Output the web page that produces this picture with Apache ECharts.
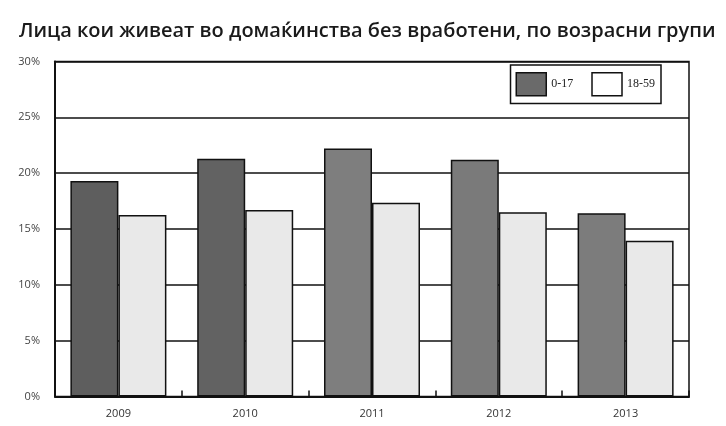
<!DOCTYPE html>
<html>
<head>
<meta charset="utf-8">
<script src="https://cdn.jsdelivr.net/npm/echarts@6/dist/echarts.min.js"></script>
<style>
  html, body { margin: 0; padding: 0; background: #fff; }
  #chart { width: 726px; height: 426px; }
</style>
</head>
<body>
<div id="chart"></div>
<script>
// Households without employed members, share of persons by age group
const years = ['2009', '2010', '2011', '2012', '2013'];
const age0to17 = [19.3, 21.3, 22.2, 21.2, 16.4];
const age18to59 = [16.25, 16.7, 17.35, 16.5, 13.95];
const yTicks = [0, 5, 10, 15, 20, 25, 30];

// fill tones for the darker series, one per year
const darkTones = ['#5e5e5e', '#626262', '#7e7e7e', '#7a7a7a', '#7c7c7c'];

const chart = echarts.init(document.getElementById('chart'));
chart.setOption({
  animation: false,
  backgroundColor: '#fff',
  title: {
    text: 'Лица кои живеат во домаќинства без вработени, по возрасни групи',
    left: 14,
    top: 16,
    textStyle: {
      fontFamily: 'Open Sans',
      fontSize: 20,
      fontWeight: 600,
      color: '#1a1a1a'
    }
  },
  legend: {
    right: 65,
    top: 65,
    orient: 'horizontal',
    icon: 'rect',
    itemWidth: 30,
    itemHeight: 23,
    itemGap: 18,
    padding: [7, 6, 7, 5],
    backgroundColor: '#fff',
    borderColor: '#111',
    borderWidth: 1.5,
    borderRadius: 0,
    textStyle: { fontFamily: 'Liberation Serif', fontSize: 12, color: '#222' },
    data: [
      { name: '0-17', itemStyle: { color: '#6a6a6a', borderColor: '#111', borderWidth: 1.5 } },
      { name: '18-59', itemStyle: { color: '#fff', borderColor: '#111', borderWidth: 1.5 } }
    ]
  },
  grid: {
    left: 55,
    right: 37,
    top: 61.5,
    bottom: 29.5,
    show: true,
    borderColor: '#111',
    borderWidth: 1.5,
    containLabel: false
  },
  xAxis: {
    type: 'category',
    data: years,
    axisLine: { lineStyle: { color: '#111', width: 2 } },
    axisTick: { show: true, alignWithLabel: false, length: -6, lineStyle: { color: '#111', width: 1.5 } },
    axisLabel: { fontFamily: 'Open Sans', fontSize: 11, color: '#333', margin: 12 }
  },
  yAxis: {
    type: 'value',
    min: yTicks[0],
    max: yTicks[yTicks.length - 1],
    interval: yTicks[1] - yTicks[0],
    axisLine: { show: true, lineStyle: { color: '#111', width: 2 } },
    axisTick: { show: false },
    splitLine: { lineStyle: { color: '#111', width: 1.5 } },
    axisLabel: {
      fontFamily: 'Open Sans',
      fontSize: 11,
      color: '#444',
      margin: 15,
      formatter: v => v + '%'
    }
  },
  series: [
    {
      name: '0-17',
      type: 'bar',
      barWidth: 48,
      barGap: '0%',
      data: age0to17.map((v, i) => ({ value: v, itemStyle: { color: darkTones[i] } })),
      itemStyle: { borderColor: '#111', borderWidth: 1.5 }
    },
    {
      name: '18-59',
      type: 'bar',
      barWidth: 48,
      barGap: '0%',
      data: age18to59,
      itemStyle: { color: '#e9e9e9', borderColor: '#111', borderWidth: 1.5 }
    }
  ]
});
</script>
</body>
</html>
